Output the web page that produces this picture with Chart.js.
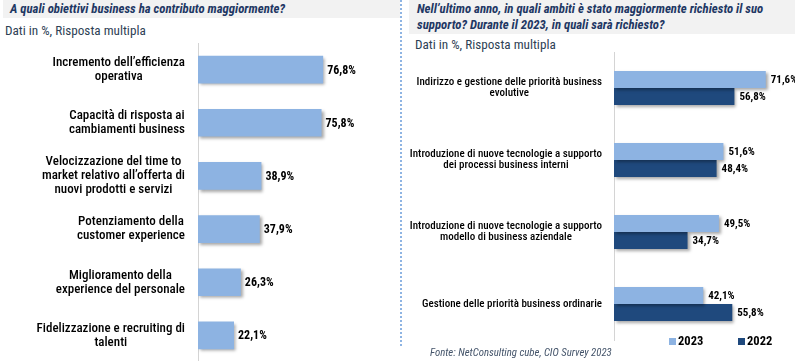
<!DOCTYPE html>
<html lang="it">
<head>
    <meta charset="UTF-8">
    <title>CIO Survey 2023</title>
    <script src="https://cdn.jsdelivr.net/npm/chart.js@4.4.1/dist/chart.umd.min.js"></script>
    <style>
        body { margin: 0; width: 795px; height: 361px; overflow: hidden; position: relative; background: #fff;
               font-family: "Liberation Sans Narrow", "Roboto Condensed", "DejaVu Sans Condensed", "Liberation Sans", sans-serif; }
        .bar { position: absolute; background: #f2f2f2; color: #1f3864; font-weight: bold; font-style: italic; font-size: 12.8px; }
        .sub { position: absolute; color: #2e3f55; font-size: 13.2px; }
        .divider { position: absolute; left: 400px; top: 0; width: 2px; height: 348px;
                   background: repeating-linear-gradient(to bottom, #8eb4e3 0 2px, transparent 2px 4px); }
        canvas { position: absolute; }
        .fonte { position: absolute; left: 430px; top: 346px; font-size: 10.8px; font-style: italic; color: #44546a; }
    </style>
</head>
<body>
    <div class="bar" style="left:3px; top:0; width:397px; height:18px; line-height:18px; padding-left:7px; box-sizing:border-box;">A quali obiettivi business ha contributo maggiormente?</div>
    <div class="sub" style="left:5px; top:23px;">Dati in %, Risposta multipla</div>

    <div class="divider"></div>

    <div class="bar" style="left:409px; top:0; width:386px; height:34px; line-height:16px; padding:1px 0 0 8px; box-sizing:border-box;">Nell’ultimo anno, in quali ambiti è stato maggiormente richiesto il suo<br>supporto? Durante il 2023, in quali sarà richiesto?</div>
    <div class="sub" style="left:415px; top:37px;">Dati in %, Risposta multipla</div>

    <canvas id="leftChart" width="398" height="322" style="left:0; top:40px;"></canvas>
    <canvas id="rightChart" width="390" height="313" style="left:405px; top:48px;"></canvas>

    <div class="fonte">Fonte: NetConsulting cube, CIO Survey 2023</div>

    <script>
        const FONT = '"Liberation Sans Narrow", "Roboto Condensed", "DejaVu Sans Condensed", "Liberation Sans", sans-serif';

        // left chart data
        const obiettivi = [
            ['Incremento dell’efficienza', 'operativa'],
            ['Capacità di risposta ai', 'cambiamenti business'],
            ['Velocizzazione del time to', 'market relativo all’offerta di', 'nuovi prodotti e servizi'],
            ['Potenziamento della', 'customer experience'],
            ['Miglioramento della', 'experience del personale'],
            ['Fidelizzazione e recruiting di', 'talenti']
        ];
        const obiettiviValues = [76.8, 75.8, 38.9, 37.9, 26.3, 22.1];

        // right chart data
        const ambiti = [
            ['Indirizzo e gestione delle priorità business', 'evolutive'],
            ['Introduzione di nuove tecnologie a supporto', 'dei processi business interni'],
            ['Introduzione di nuove tecnologie a supporto', 'modello di business aziendale'],
            ['Gestione delle priorità business ordinarie']
        ];
        const values2023 = [71.6, 51.6, 49.5, 42.1];
        const values2022 = [56.8, 48.4, 34.7, 55.8];
        const seriesNames = ['2023', '2022'];

        const LIGHT = '#8db3e2';
        const DARK = '#1f497d';

        Chart.defaults.font.family = FONT;

        const barShadow = {
            id: 'barShadow',
            beforeDatasetsDraw(chart) {
                const c = chart.ctx;
                c.save();
                c.shadowColor = 'rgba(0,0,0,0.35)';
                c.shadowOffsetX = 2;
                c.shadowOffsetY = 2;
                c.shadowBlur = 3;
            },
            afterDatasetsDraw(chart) {
                chart.ctx.restore();
            }
        };

        const barLabels = {
            id: 'barLabels',
            afterDraw(chart, args, opts) {
                const ctx = chart.ctx;
                const area = chart.chartArea;
                const yScale = chart.scales.y;
                ctx.save();
                ctx.fillStyle = '#000';
                ctx.textBaseline = 'middle';

                ctx.font = opts.catFont;
                ctx.textAlign = 'center';
                chart.data.labels.forEach((lines, i) => {
                    const y = yScale.getPixelForValue(i);
                    const w = Math.max(...lines.map(l => ctx.measureText(l).width));
                    const cx = area.left - opts.gap - w / 2;
                    lines.forEach((l, j) => {
                        ctx.fillText(l, cx, y + (j - (lines.length - 1) / 2) * opts.lineHeight);
                    });
                });

                ctx.font = opts.valFont;
                ctx.textAlign = 'left';
                chart.data.datasets.forEach((ds, di) => {
                    chart.getDatasetMeta(di).data.forEach((bar, i) => {
                        const txt = ds.data[i].toFixed(1).replace('.', ',') + '%';
                        ctx.fillText(txt, bar.x + opts.valGap, bar.y + 1);
                    });
                });
                ctx.restore();
            }
        };

        const smallLegend = {
            id: 'smallLegend',
            afterDraw(chart) {
                const ctx = chart.ctx;
                const area = chart.chartArea;
                ctx.save();
                ctx.font = 'bold 12.5px ' + FONT;
                ctx.textBaseline = 'middle';
                ctx.textAlign = 'left';
                let x = area.right - 104;
                const y = area.bottom + 1;
                chart.data.datasets.forEach(ds => {
                    ctx.fillStyle = ds.backgroundColor;
                    ctx.fillRect(x, y - 3, 7, 7);
                    ctx.fillStyle = '#000';
                    ctx.fillText(ds.label, x + 9, y + 1);
                    x += 69;
                });
                ctx.restore();
            }
        };

        new Chart(document.getElementById('leftChart'), {
            type: 'bar',
            data: {
                labels: obiettivi,
                datasets: [{
                    data: obiettiviValues,
                    backgroundColor: LIGHT,
                    borderWidth: 0,
                    categoryPercentage: 0.52,
                    barPercentage: 1
                }]
            },
            options: {
                indexAxis: 'y',
                responsive: false,
                animation: false,
                layout: { padding: { left: 198, top: 3, right: 37, bottom: 0 } },
                scales: {
                    x: { display: false, min: 0, max: 100 },
                    y: {
                        ticks: { display: false },
                        grid: { display: false, drawTicks: false },
                        border: { display: true, color: '#d4d4d4', width: 1 }
                    }
                },
                plugins: {
                    legend: { display: false },
                    tooltip: { enabled: false },
                    barLabels: { catFont: '500 13px ' + FONT, lineHeight: 14, gap: 13, valFont: 'bold 12px ' + FONT, valGap: 4 }
                }
            },
            plugins: [barShadow, barLabels]
        });

        new Chart(document.getElementById('rightChart'), {
            type: 'bar',
            data: {
                labels: ambiti,
                datasets: [
                    { label: seriesNames[0], data: values2023, backgroundColor: LIGHT, borderWidth: 0, categoryPercentage: 0.47, barPercentage: 1 },
                    { label: seriesNames[1], data: values2022, backgroundColor: DARK, borderWidth: 0, categoryPercentage: 0.47, barPercentage: 1 }
                ]
            },
            options: {
                indexAxis: 'y',
                responsive: false,
                animation: false,
                layout: { padding: { left: 209, top: 4, right: 22, bottom: 21 } },
                scales: {
                    x: { display: false, min: 0, max: 75 },
                    y: {
                        ticks: { display: false },
                        grid: { display: false, drawTicks: false },
                        border: { display: true, color: '#d4d4d4', width: 1 }
                    }
                },
                plugins: {
                    legend: { display: false },
                    tooltip: { enabled: false },
                    barLabels: { catFont: '500 11px ' + FONT, lineHeight: 11, gap: 12, valFont: 'bold 11px ' + FONT, valGap: 5 }
                }
            },
            plugins: [barShadow, barLabels, smallLegend]
        });
    </script>
</body>
</html>
